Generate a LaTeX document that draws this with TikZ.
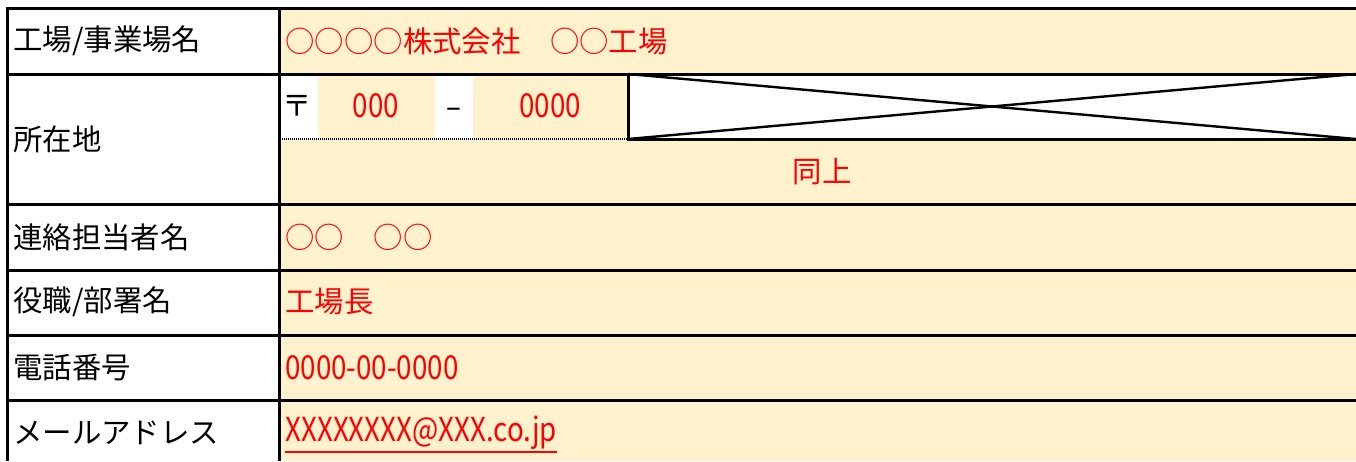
\documentclass[tikz,border=0pt]{standalone}
\usepackage{xcolor}
\usepackage{fontspec}
\setmainfont{Noto Sans CJK JP}
\newfontfamily\narrowfont[FakeStretch=0.84]{Noto Sans CJK JP}
\usepackage{tikz}
\usetikzlibrary{positioning}
\definecolor{cellfill}{HTML}{FFF2CC}
\definecolor{inkred}{HTML}{FF0000}

\begin{document}
\begin{tikzpicture}[x=0.5pt, y=-0.5pt,
		every node/.style={inner sep=0pt, font=\fontsize{14.7}{17}\selectfont},
		grid/.style={line width=1.5pt},
		lab/.style={anchor=west, text=black},
		val/.style={anchor=west, text=inkred},
		digits/.style={font=\fontsize{16.5}{19}\narrowfont}]
		
		\useasboundingbox (0,0) rectangle (1356,461);
		
		%% cell fills
		\fill[cellfill] (279,8) rectangle (1356,74);
		\fill[cellfill] (318,74) rectangle (435,139);
		\fill[cellfill] (473,74) rectangle (628,139);
		\fill[cellfill] (279,139) rectangle (1356,461);
		
		%% grid
		\draw[grid] (5.5,8) -- (1356,8);
		\draw[grid] (7,8) -- (7,461);
		\draw[grid] (279,8) -- (279,461);
		\foreach \y in {74, 204, 270, 335, 400}
		\draw[grid] (7,\y) -- (1356,\y);
		
		%% crossed box
		\draw[grid] (628,74) -- (628,139) -- (1356,139);
		\draw[line width=1.2pt] (628,74) -- (1356,139);
		\draw[line width=1.2pt] (628,139) -- (1356,74);
		\draw[line width=0.7pt, dash pattern=on 0.5pt off 0.5pt] (280,139) -- (628,139);
		
		%% labels
		\node[lab] (name) at (13,41) {工場/事業場名};
		\node[lab] (addr) at (13,139) {所在地};
		\node[lab] (contact) at (13,237) {連絡担当者名};
		\node[lab] (post) at (13,302) {役職/部署名};
		\node[lab] (tel) at (13,368) {電話番号};
		\node[lab] (mailtag) at (13,433) {メールアドレス};
		
		%% values
		\node[val] (namev) at (285,41) {○○○○株式会社　○○工場};
		\node (zip) at (297,106) {〒};
		\node[digits, text=inkred] (zipa) at (376,106) {000};
		\node[digits] (zipdash) at (454,113) {–};
		\node[digits, text=inkred] (zipb) at (550,106) {0000};
		\node[text=inkred] (addrv) at (822,172) {同上};
		\node[val] (contactv) at (285,237) {○○　○○};
		\node[val] (postv) at (285,302) {工場長};
		\node[val, digits] (telv) at (285,368) {0000-00-0000};
		\node[val, digits] (mailv) at (285,433) {XXXXXXXX@XXX.co.jp};
		\draw[inkred, line width=1.25pt] ([yshift=-1pt]mailv.south west) -- ([yshift=-1pt]mailv.south east);
		
\end{tikzpicture}
\end{document}
